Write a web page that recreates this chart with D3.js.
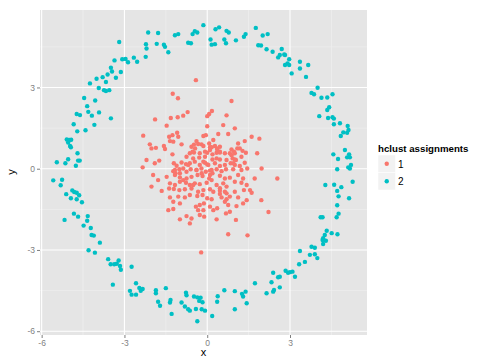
<!DOCTYPE html>
<html><head><meta charset="utf-8">
<script src="https://cdn.jsdelivr.net/npm/d3@7/dist/d3.min.js"></script>
<style>body{margin:0;background:#fff}svg{display:block;font-family:"Liberation Sans",Arial,sans-serif}</style>
</head><body>
<script>
// cluster 2 (outer ring) values
const ringX = [-3.19,-3.08,-2.96,-2.87,-3.36,-3.49,-3.45,-3.13,-3.61,-3.79,-4.01,-4.25,-3.67,-3.31,-3.93,-3.74,-3.67,-3.55,-4.46,-4.06,-4.35,-4.31,-3.92,-4.18,-4.73,-4.61,-3.49,-4.84,-4.09,-4.71,-4.41,-5.09,-5.00,-4.93,-5.04,-4.97,-4.94,-4.70,-5.04,-5.45,-5.14,-4.62,-4.68,-4.76,-5.58,-5.26,-5.31,-4.89,-4.82,-4.73,-4.64,-5.11,-4.94,-4.73,-4.54,-4.83,-4.68,-4.33,-4.35,-5.17,-4.48,-4.22,-4.19,-4.11,-3.89,-4.30,-4.07,-3.59,-3.21,-3.50,-3.37,-3.28,-3.16,-3.13,-3.42,-2.74,-2.58,-2.80,-2.46,-2.34,-2.41,-2.74,-2.58,-1.86,-1.86,-1.50,-1.78,-1.71,-1.33,-1.35,-1.29,-0.93,-0.81,-0.69,-0.63,-0.77,-0.75,-0.48,-0.36,-0.24,-0.29,-0.17,-0.41,-0.20,-0.08,-0.36,0.18,0.38,0.36,0.62,1.00,1.26,1.39,1.30,1.00,1.43,4.33,4.51,4.72,4.26,4.20,4.30,4.20,4.18,3.78,3.90,3.36,3.72,3.90,3.99,3.54,3.33,2.39,2.84,2.93,3.00,3.09,3.18,2.63,2.57,2.33,1.73,2.63,2.42,2.39,2.15,4.06,4.38,4.54,4.59,4.81,4.59,5.09,5.12,4.93,5.07,4.84,4.99,5.14,4.57,5.07,5.17,4.74,5.21,5.11,5.17,4.71,5.27,4.28,4.60,4.86,4.71,4.76,5.14,4.71,4.76,4.69,4.11,4.18,4.35,1.76,1.39,1.33,2.01,2.19,1.85,1.95,2.15,2.37,2.70,2.79,2.63,2.57,2.82,2.97,2.91,2.82,2.97,3.36,3.36,3.66,3.06,3.58,4.00,3.78,3.87,4.14,4.35,4.54,4.42,-2.14,-1.78,-2.22,-2.20,-1.83,-1.57,-1.53,-1.41,-1.17,-1.05,-0.69,-0.59,-0.53,-0.45,-0.36,-0.14,0.30,0.43,0.70,0.78,0.12,0.16,0.28,0.62,0.68,1.04,-2.66,-2.54,-2.23];
const ringY = [4.68,4.04,4.05,3.93,4.00,3.73,3.59,3.57,3.48,3.38,3.32,3.15,3.20,3.36,2.98,2.90,2.87,2.90,2.61,2.52,2.31,2.10,2.08,1.96,2.02,1.98,1.86,1.64,1.62,1.38,1.42,1.08,1.06,1.07,0.97,0.84,0.79,0.57,0.35,0.24,0.20,0.30,0.30,0.11,-0.43,-0.41,-0.61,-0.80,-0.86,-0.89,-0.98,-0.94,-1.09,-1.13,-1.24,-1.66,-1.77,-1.75,-1.92,-1.89,-2.10,-2.19,-2.45,-2.47,-2.73,-3.01,-3.10,-3.34,-3.39,-3.53,-3.53,-3.51,-3.59,-3.73,-4.28,-3.62,-4.23,-4.51,-4.40,-4.44,-4.51,-4.65,-4.65,-4.49,-4.60,-4.41,-4.91,-5.06,-4.85,-4.94,-5.36,-4.94,-5.09,-5.19,-5.24,-4.58,-4.67,-4.72,-4.75,-4.76,-4.88,-4.93,-5.18,-5.19,-5.24,-5.63,-5.44,-4.71,-4.91,-4.49,-4.52,-4.62,-4.54,-4.72,-5.19,-4.97,-2.29,-2.38,-2.42,-2.45,-2.57,-2.66,-2.78,-2.63,-2.88,-2.92,-3.04,-3.18,-3.16,-3.30,-3.44,-3.53,-3.84,-3.77,-3.84,-3.82,-3.80,-3.99,-3.99,-4.01,-4.19,-4.23,-4.38,-4.48,-4.54,-4.60,1.94,1.87,1.90,1.85,1.68,1.64,1.58,1.43,1.34,1.33,1.21,0.69,0.53,0.53,0.42,0.42,0.36,0.14,0.05,0.01,-0.02,-0.48,-0.60,-0.59,-0.68,-0.82,-1.02,-1.09,-1.35,-1.66,-1.79,-1.79,-1.79,2.17,5.20,4.97,4.87,4.92,4.97,4.56,4.55,4.41,4.32,4.42,4.22,4.20,4.11,4.20,4.04,3.89,3.83,3.83,3.95,3.70,3.83,3.52,3.39,2.99,2.80,2.75,2.62,2.63,2.75,2.27,5.03,5.01,4.60,4.44,4.61,4.58,4.50,4.30,4.93,4.97,4.65,4.63,4.97,5.08,5.03,5.30,5.15,5.22,5.09,5.03,4.77,4.58,4.60,4.77,4.63,4.74,4.10,3.95,4.13];
// cluster 1 (inner blob) values
const coreX = [-0.41,-1.25,-1.06,0.88,-0.71,-0.87,-1.07,-1.32,-1.89,0.00,0.07,0.17,0.70,
-1.47,0.00,0.58,1.00,-1.26,-1.38,-2.32,-1.09,-1.05,-0.05,-0.14,0.40,0.76,-1.35,-1.23,-0.93,-0.39,0.22,1.12,1.36,-2.08,-2.02,-1.86,-1.57,-1.53,-0.57,-0.48,-0.33,-0.21,-0.14,0.07,0.16,0.28,0.36,0.46,0.88,0.97,1.09,1.18,
-1.26,-0.63,-0.48,-0.27,-0.08,0.00,0.10,0.19,0.34,0.46,0.64,0.82,1.00,1.28,1.40,-2.20,-1.90,-1.74,-0.75,-0.51,-0.29,-0.08,0.19,0.34,0.46,0.70,0.92,1.04,1.24,
-2.34,-1.21,-1.11,-0.93,-0.77,-0.63,-0.45,-0.27,-0.08,0.00,0.28,0.46,0.64,0.85,1.00,1.18,1.36,-1.23,-1.15,-1.01,-0.87,-0.75,-0.60,-0.39,-0.21,-0.05,0.10,0.19,0.34,0.52,0.68,0.94,1.24,1.45,
-1.96,-1.78,-1.47,-1.17,-0.99,-0.75,-0.57,-0.35,-0.17,0.07,0.16,0.46,0.64,0.82,1.12,1.30,-1.35,-1.17,-0.99,-0.77,-0.63,-0.45,-0.27,-0.02,0.34,0.58,1.00,1.24,1.43,
-2.02,-1.65,-1.38,-1.21,-1.01,-0.81,-0.57,-0.33,-0.14,0.10,0.22,0.46,0.70,1.00,1.33,-1.35,-1.05,-0.81,-0.63,-0.36,-0.17,0.00,0.16,0.46,0.52,0.70,1.12,1.43,
-1.23,-0.99,-0.27,-0.12,0.10,0.36,0.64,0.76,1.06,1.30,-1.41,-1.23,-0.41,-0.33,-0.14,0.22,0.68,0.82,-0.99,-0.75,-0.57,-0.27,-0.11,0.34,1.04,-0.63,
1.61,1.89,1.81,1.97,1.72,2.54,1.55,1.61,1.96,2.22,0.76,1.46,-0.22,
-0.44,-0.53,0.10,0.36,0.46,0.88,1.00,0.95,-0.14,0.04,0.16,0.10,-0.20,-0.39,-0.69,-0.99,-1.17,0.70,0.64,0.82,0.46,-0.51,-0.87];
const coreY = [3.27,2.77,2.60,2.50,2.09,1.96,1.90,1.87,1.82,1.94,2.02,2.13,1.97,
1.59,1.57,1.61,1.49,1.24,1.18,1.22,1.33,1.18,1.24,1.21,1.28,1.28,1.02,1.00,0.90,1.02,1.06,0.93,1.02,0.90,0.75,0.77,0.84,0.73,0.81,0.89,0.91,0.90,0.84,0.93,0.79,0.84,0.75,0.81,0.71,0.63,0.75,0.75,
0.53,0.57,0.60,0.57,0.63,0.59,0.69,0.53,0.59,0.60,0.57,0.57,0.57,0.66,0.59,0.32,0.20,0.30,0.44,0.38,0.41,0.44,0.34,0.38,0.34,0.32,0.38,0.32,0.44,
0.05,0.20,0.11,0.23,0.17,0.20,0.26,0.14,0.22,0.16,0.20,0.10,0.14,0.20,0.14,0.10,0.22,-0.09,-0.17,-0.02,0.01,-0.11,-0.02,-0.05,0.01,-0.11,-0.07,-0.17,-0.02,-0.09,-0.02,-0.02,-0.05,0.01,
-0.23,-0.42,-0.30,-0.23,-0.32,-0.36,-0.30,-0.23,-0.27,-0.36,-0.42,-0.26,-0.36,-0.33,-0.23,-0.36,-0.54,-0.60,-0.48,-0.52,-0.60,-0.54,-0.57,-0.52,-0.60,-0.54,-0.48,-0.52,-0.60,
-0.66,-0.82,-0.73,-0.75,-0.79,-0.76,-0.73,-0.85,-0.79,-0.76,-0.85,-0.81,-0.91,-0.85,-0.79,-1.06,-1.03,-1.06,-0.97,-1.01,-0.97,-1.09,-1.13,-0.93,-1.06,-1.13,-1.06,-1.16,
-1.22,-1.28,-1.34,-1.28,-1.40,-1.46,-1.22,-1.34,-1.38,-1.28,-1.53,-1.49,-1.40,-1.53,-1.53,-1.53,-1.65,-1.59,-1.87,-1.75,-1.84,-1.71,-1.77,-1.87,-1.89,-2.02,
1.18,1.11,0.57,0.01,-0.36,-0.36,-0.79,-0.89,-1.16,-1.60,-2.42,-2.46,-3.09,
0.75,0.63,0.79,0.71,0.63,0.50,0.34,0.20,0.26,0.14,-0.05,-0.23,-0.17,-0.05,0.14,-0.17,-0.05,-0.66,-0.85,-1.03,-0.72,-0.60,-0.42];
const xTicks = [-6,-3,0,3];
const yTicks = [-6,-3,0,3];
const xMinor = [-4.5,-1.5,1.5,4.5];
const yMinor = [-4.5,-1.5,1.5,4.5];
const groups = ["1","2"];
const colors = ["#F8766D","#00BFC4"];

const W=504,H=363;
const svg=d3.select("body").append("svg").attr("width",W).attr("height",H);
const P={l:40,r:367,t:10,b:335};
const x=d3.scaleLinear().domain([-6.06,5.79]).range([P.l,P.r]);
const y=d3.scaleLinear().domain([-6.14,5.86]).range([P.b,P.t]);

svg.append("rect").attr("x",P.l).attr("y",P.t).attr("width",P.r-P.l).attr("height",P.b-P.t).attr("fill","#E5E5E5");
const g=svg.append("g");
g.selectAll(".vmin").data(xMinor).join("line").attr("x1",d=>x(d)).attr("x2",d=>x(d)).attr("y1",P.t).attr("y2",P.b).attr("stroke","#F2F2F2").attr("stroke-width",0.6);
g.selectAll(".hmin").data(yMinor).join("line").attr("y1",d=>y(d)).attr("y2",d=>y(d)).attr("x1",P.l).attr("x2",P.r).attr("stroke","#F2F2F2").attr("stroke-width",0.6);
g.selectAll(".vmaj").data(xTicks).join("line").attr("x1",d=>x(d)).attr("x2",d=>x(d)).attr("y1",P.t).attr("y2",P.b).attr("stroke","#fff").attr("stroke-width",1.1);
g.selectAll(".hmaj").data(yTicks).join("line").attr("y1",d=>y(d)).attr("y2",d=>y(d)).attr("x1",P.l).attr("x2",P.r).attr("stroke","#fff").attr("stroke-width",1.1);

const pts=[];
coreX.forEach((v,i)=>pts.push({x:v,y:coreY[i],g:0}));
ringX.forEach((v,i)=>pts.push({x:v,y:ringY[i],g:1}));
svg.append("g").selectAll("circle").data(pts).join("circle")
  .attr("cx",d=>x(d.x)).attr("cy",d=>y(d.y)).attr("r",2.2).attr("fill",d=>colors[d.g]);

// axes
const xa=svg.append("g").attr("transform",`translate(0,${P.b})`).call(d3.axisBottom(x).tickValues(xTicks).tickSize(3).tickPadding(2).tickFormat(d3.format("d")));
const ya=svg.append("g").attr("transform",`translate(${P.l},0)`).call(d3.axisLeft(y).tickValues(yTicks).tickSize(3).tickPadding(2).tickFormat(d3.format("d")));
[xa,ya].forEach(a=>{a.select(".domain").remove();a.selectAll(".tick line").attr("stroke","#7f7f7f");a.selectAll("text").attr("fill","#7f7f7f").attr("font-size","8.5px").attr("font-family","Liberation Sans, Arial, sans-serif");});
xa.selectAll("text").text(d=>d<0?"-"+Math.abs(d):d);
ya.selectAll("text").text(d=>d<0?"-"+Math.abs(d):d);

svg.append("text").attr("x",(P.l+P.r)/2).attr("y",356).attr("text-anchor","middle").attr("font-size","11px").text("x");
svg.append("text").attr("transform","translate(15,172) rotate(-90)").attr("text-anchor","middle").attr("font-size","11px").text("y");

// legend
const L=svg.append("g");
L.append("text").attr("x",378).attr("y",152).attr("font-size","9.7px").attr("font-weight","bold").text("hclust assignments");
groups.forEach((gname,i)=>{
  const yy=155+i*17.5;
  L.append("rect").attr("x",378).attr("y",yy).attr("width",17.5).attr("height",17.5).attr("fill","#F2F2F2").attr("stroke","#fff").attr("stroke-width",0.5);
  L.append("circle").attr("cx",378+8.75).attr("cy",yy+8.75).attr("r",2.2).attr("fill",colors[i]);
  L.append("text").attr("x",398).attr("y",yy+12.5).attr("font-size","10px").text(gname);
});
</script>
</body></html>
